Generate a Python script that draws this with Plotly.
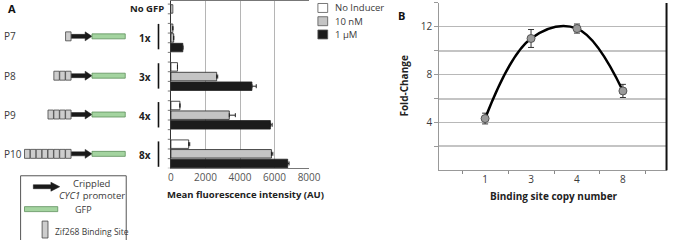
import plotly.graph_objects as go

W, H = 680, 240

# ---------------- data ----------------
categories = ["No GFP", "P7", "P8", "P9", "P10"]
copy_labels = ["", "1x", "3x", "4x", "8x"]
binding_sites = [1, 3, 4, 8]
no_gfp = [110, None, None, None, None]
no_inducer = [None, 110, 380, 520, 1030]
no_inducer_err = [0, 0, 0, 0, 60]
nm10 = [None, 160, 2650, 3380, 5820]
nm10_err = [0, 0, 60, 350, 80]
um1 = [None, 690, 4690, 5760, 6760]
um1_err = [0, 0, 250, 100, 80]

copy_number = ["1", "3", "4", "8"]
fold_change = [4.33, 11.03, 11.86, 6.64]
fold_err = [0.45, 0.75, 0.38, 0.55]

FONT = "Open Sans"
TXT = "#3a3a3a"


def px(x):
    return x / W


def py(y):
    return 1 - y / H


fig = go.Figure()

bar_line = dict(color="#222222", width=0.8)
fig.add_trace(go.Bar(y=categories, x=no_inducer, orientation="h", offsetgroup="a",
                     marker=dict(color="white", line=bar_line),
                     error_x=dict(type="data", array=no_inducer_err, arrayminus=[0] * 5,
                                  symmetric=False, color="#222", thickness=1, width=2),
                     xaxis="x", yaxis="y", showlegend=False))
fig.add_trace(go.Bar(y=categories, x=nm10, orientation="h", offsetgroup="b",
                     marker=dict(color="#c4c4c4", line=bar_line),
                     error_x=dict(type="data", array=nm10_err, arrayminus=[0] * 5,
                                  symmetric=False, color="#222", thickness=1, width=2),
                     xaxis="x", yaxis="y", showlegend=False))
fig.add_trace(go.Bar(y=categories, x=um1, orientation="h", offsetgroup="c",
                     marker=dict(color="#1c1c1c", line=bar_line),
                     error_x=dict(type="data", array=um1_err, arrayminus=[0] * 5,
                                  symmetric=False, color="#222", thickness=1, width=2),
                     xaxis="x", yaxis="y", showlegend=False))
fig.add_trace(go.Bar(y=categories, x=no_gfp, orientation="h", offsetgroup="c",
                     marker=dict(color="white", line=bar_line),
                     xaxis="x", yaxis="y", showlegend=False))

# Panel B
fig.add_trace(go.Scatter(x=copy_number, y=fold_change, mode="lines+markers",
                         line=dict(shape="spline", smoothing=1.1, color="black", width=2.5),
                         marker=dict(size=8, color="#9a9a9a", line=dict(color="#555", width=1)),
                         error_y=dict(type="data", array=fold_err, color="#333", thickness=1, width=3),
                         xaxis="x2", yaxis="y2", showlegend=False))

shapes = []
annotations = []

# ------------ diagram rows ------------
row_y = [35.5, 75, 114, 153.5]
for i, n in enumerate(binding_sites):
    cy = row_y[i]
    for k in range(n):
        x0 = 70 - (n - k) * 6
        shapes.append(dict(type="rect", xref="paper", yref="paper",
                           x0=px(x0), x1=px(x0 + 5.6), y0=py(cy - 4.5), y1=py(cy + 4.5),
                           fillcolor="#cdcdcd", line=dict(color="#444", width=0.8)))
    # arrow
    path = (f"M {px(70)},{py(cy-2)} L {px(84)},{py(cy-2)} L {px(84)},{py(cy-4.5)} "
            f"L {px(91)},{py(cy)} L {px(84)},{py(cy+4.5)} L {px(84)},{py(cy+2)} "
            f"L {px(70)},{py(cy+2)} Z")
    shapes.append(dict(type="path", xref="paper", yref="paper", path=path,
                       fillcolor="#1a1a1a", line=dict(color="#1a1a1a", width=0.5)))
    # GFP
    shapes.append(dict(type="rect", xref="paper", yref="paper",
                       x0=px(91), x1=px(125), y0=py(cy - 2.5), y1=py(cy + 2.5),
                       fillcolor="#a4d4a0", line=dict(color="#5d8f5a", width=0.8)))
    annotations.append(dict(x=px(-1), y=py(cy), xref="paper", yref="paper", text=categories[i + 1],
                            showarrow=False, xanchor="left", yanchor="middle",
                            font=dict(family=FONT, size=10, color=TXT)))
    annotations.append(dict(x=px(145), y=py(cy + 1.5), xref="paper", yref="paper",
                            text="<b>" + copy_labels[i + 1] + "</b>",
                            showarrow=False, xanchor="center", yanchor="middle",
                            font=dict(family=FONT, size=10, color="#222")))
    # group bracket
    shapes.append(dict(type="line", xref="paper", yref="paper",
                       x0=px(159), x1=px(159), y0=py(cy - 12.5), y1=py(cy + 13),
                       line=dict(color="#111", width=1.6)))

annotations.append(dict(x=px(167), y=py(8), xref="paper", yref="paper", text="<b>No GFP</b>",
                        showarrow=False, xanchor="right", yanchor="middle",
                        font=dict(family=FONT, size=9.5, color="#222")))

annotations.append(dict(x=px(3), y=py(8), xref="paper", yref="paper", text="<b>A</b>",
                        showarrow=False, xanchor="left", yanchor="middle",
                        font=dict(family=FONT, size=11, color="#111")))
annotations.append(dict(x=px(402), y=py(15), xref="paper", yref="paper", text="<b>B</b>",
                        showarrow=False, xanchor="left", yanchor="middle",
                        font=dict(family=FONT, size=11, color="#111")))

# small left ticks on bar axis (between bar slots)
for k in range(-1, 17):
    yi = (k + 1.5) / 4
    shapes.append(dict(type="line", xref="paper", yref="y", x0=px(168.5), x1=px(171.7),
                       y0=yi, y1=yi, line=dict(color="#555", width=0.8)))

# ------------ bar legend ------------
leg_items = [("No Inducer", "white"), ("10 nM", "#c4c4c4"), ("1 μM", "#1c1c1c")]
for j, (lab, col) in enumerate(leg_items):
    y0 = 2.5 + j * 13.3
    shapes.append(dict(type="rect", xref="paper", yref="paper", x0=px(322), x1=px(332),
                       y0=py(y0), y1=py(y0 + 9), fillcolor=col, line=dict(color="#555", width=0.8)))
    annotations.append(dict(x=px(337), y=py(y0 + 4.5), xref="paper", yref="paper", text=lab,
                            showarrow=False, xanchor="left", yanchor="middle",
                            font=dict(family=FONT, size=9.5, color=TXT)))

# ------------ schematic legend box ------------
shapes.append(dict(type="rect", xref="paper", yref="paper", x0=px(18), x1=px(126),
                   y0=py(175.5), y1=py(241), line=dict(color="#555", width=1), fillcolor="rgba(0,0,0,0)"))
cy = 186.5
path = (f"M {px(31)},{py(cy-2)} L {px(49)},{py(cy-2)} L {px(49)},{py(cy-4.5)} "
        f"L {px(58)},{py(cy)} L {px(49)},{py(cy+4.5)} L {px(49)},{py(cy+2)} "
        f"L {px(31)},{py(cy+2)} Z")
shapes.append(dict(type="path", xref="paper", yref="paper", path=path,
                   fillcolor="#1a1a1a", line=dict(color="#1a1a1a", width=0.5)))
annotations.append(dict(x=px(91), y=py(183), xref="paper", yref="paper", text="Crippled",
                        showarrow=False, xanchor="center", yanchor="middle",
                        font=dict(family=FONT, size=9.5, color=TXT)))
annotations.append(dict(x=px(91), y=py(195), xref="paper", yref="paper", text="<i>CYC1</i> promoter",
                        showarrow=False, xanchor="center", yanchor="middle",
                        font=dict(family=FONT, size=9.5, color=TXT)))
shapes.append(dict(type="rect", xref="paper", yref="paper", x0=px(22), x1=px(56),
                   y0=py(206.5), y1=py(211.5), fillcolor="#a4d4a0", line=dict(color="#5d8f5a", width=0.8)))
annotations.append(dict(x=px(82), y=py(209), xref="paper", yref="paper", text="GFP",
                        showarrow=False, xanchor="center", yanchor="middle",
                        font=dict(family=FONT, size=9, color=TXT)))
shapes.append(dict(type="rect", xref="paper", yref="paper", x0=px(40), x1=px(46),
                   y0=py(221), y1=py(238), fillcolor="#cdcdcd", line=dict(color="#444", width=0.8)))
annotations.append(dict(x=px(91.5), y=py(231), xref="paper", yref="paper", text="Zif268 Binding Site",
                        showarrow=False, xanchor="center", yanchor="middle",
                        font=dict(family=FONT, size=8.5, color=TXT)))

# B right border
shapes.append(dict(type="line", xref="paper", yref="paper", x0=px(678.5), x1=px(678.5),
                   y0=py(2), y1=py(170), line=dict(color="#111", width=2)))

# axis titles
annotations.append(dict(x=px(248), y=py(194), xref="paper", yref="paper",
                        text="<b>Mean fluorescence intensity (AU)</b>",
                        showarrow=False, xanchor="center", yanchor="middle",
                        font=dict(family=FONT, size=9.5, color="#222")))
annotations.append(dict(x=px(563), y=py(196), xref="paper", yref="paper",
                        text="<b>Binding site copy number</b>",
                        showarrow=False, xanchor="center", yanchor="middle",
                        font=dict(family=FONT, size=10, color="#222")))
annotations.append(dict(x=px(410), y=py(85), xref="paper", yref="paper",
                        text="<b>Fold-Change</b>", textangle=-90,
                        showarrow=False, xanchor="center", yanchor="middle",
                        font=dict(family=FONT, size=10, color="#222")))

fig.update_layout(
    width=W, height=H, margin=dict(l=0, r=0, t=0, b=0),
    paper_bgcolor="white", plot_bgcolor="white",
    barmode="group", bargap=0.25, bargroupgap=0.12,
    font=dict(family=FONT, size=10, color=TXT),
    xaxis=dict(domain=[px(171.7), px(313)], range=[0, 8000], tickvals=[0, 2000, 4000, 6000, 8000],
               showgrid=True, gridcolor="#b5b5b5", gridwidth=1, zeroline=False,
               showline=True, linecolor="#777", linewidth=1, mirror=True,
               ticks="", tickfont=dict(family=FONT, size=10, color="#555"), anchor="y"),
    yaxis=dict(domain=[py(168), py(0.5)], type="category", range=[4.375, 0.0575],
               showticklabels=False, ticks="", showgrid=False, zeroline=False,
               showline=True, linecolor="#333", linewidth=1, anchor="x"),
    xaxis2=dict(domain=[px(446), px(679)], type="category", range=[-1, 3.96],
                ticks="outside", tickson="boundaries", ticklen=3, tickcolor="#888",
                showgrid=False, zeroline=False, showline=True, linecolor="#999", linewidth=1,
                tickfont=dict(family=FONT, size=10, color=TXT), anchor="y2"),
    yaxis2=dict(domain=[py(170), py(2)], range=[0, 14], tickvals=[4, 8, 12],
                ticks="outside", ticklen=4, tickcolor="#999",
                showgrid=True, gridcolor="#b8b8b8", gridwidth=1,
                minor=dict(tickvals=[2, 6, 10, 14], showgrid=True, gridcolor="#c4c4c4", gridwidth=1.5,
                           ticks="outside", ticklen=4, tickcolor="#999"),
                zeroline=False, showline=True, linecolor="#999", linewidth=1,
                tickfont=dict(family=FONT, size=10, color=TXT), anchor="x2"),
    shapes=shapes, annotations=annotations,
)

fig.write_html("out.html", config={"displayModeBar": False},
               post_script="document.body.style.margin='0';document.body.style.overflow='hidden';")
